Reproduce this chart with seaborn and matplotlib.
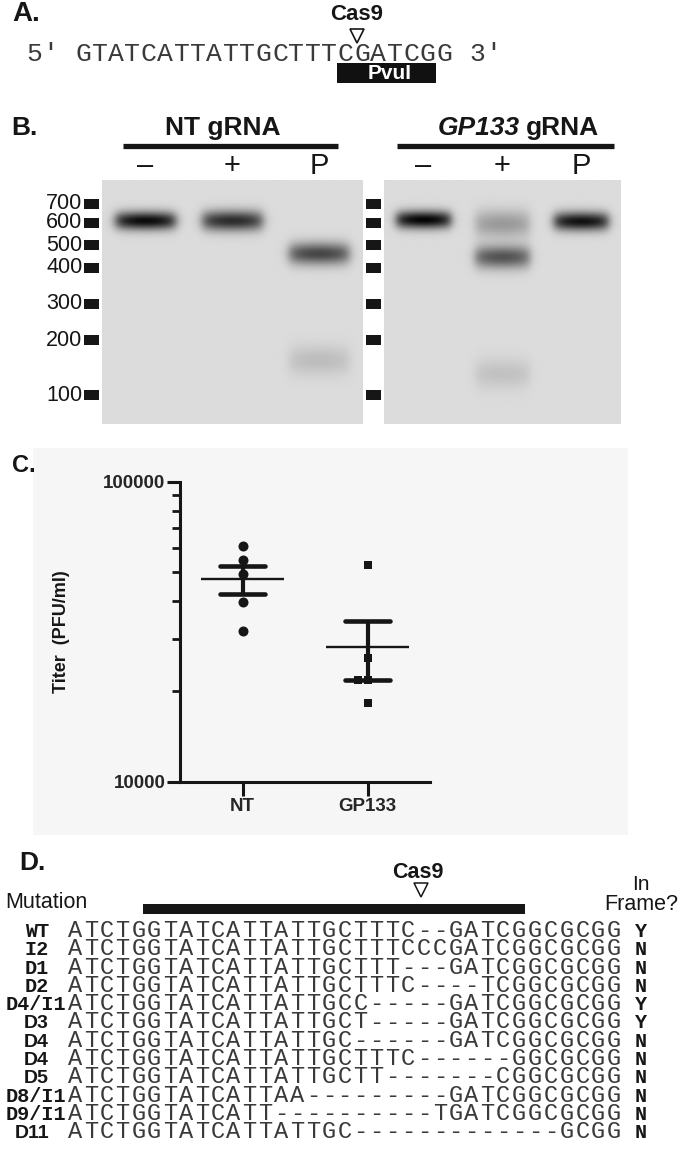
import numpy as np
import pandas as pd
import matplotlib
matplotlib.use('Agg')
import matplotlib.pyplot as plt
import matplotlib.transforms as mtransforms
from matplotlib.patches import Rectangle
from matplotlib.ticker import NullFormatter, LogLocator
import seaborn as sns

# --- panel A: target site ---
SITE_SEQ = "GTATCATTATTGCTTTCGATCGG"

LADDER_BP = [700, 600, 500, 400, 300, 200, 100]
LADDER_MIGRATION = [23.5, 42.5, 65, 87.5, 123.5, 160, 215]   # px below the wells
GEL_LANES = ['\u2013', '+', 'P']

NT_BAND_LANE = [0, 1, 2, 2]
NT_BAND_BP = [610, 610, 460, 155]
NT_BAND_STRENGTH = [0.95, 0.8, 0.68, 0.14]

GP_BAND_LANE = [0, 1, 1, 1, 2]
GP_BAND_BP = [615, 595, 445, 131, 607]
GP_BAND_STRENGTH = [0.98, 0.3, 0.62, 0.12, 0.92]

# --- panel C: titers ---
TITER_GROUPS = ['NT', 'GP133']
NT_TITER = [61000, 54700, 49100, 39800, 31900]
GP133_TITER = [52700, 25800, 21800, 21800, 18250]

# --- panel D: alignment ---
MUTATIONS = ['WT', 'I2', 'D1', 'D2', 'D4/I1', 'D3', 'D4', 'D4', 'D5', 'D8/I1', 'D9/I1', 'D11']
ALIGNED = [
    "ATCTGGTATCATTATTGCTTTC--GATCGGCGCGG",
    "ATCTGGTATCATTATTGCTTTCCCGATCGGCGCGG",
    "ATCTGGTATCATTATTGCTTT---GATCGGCGCGG",
    "ATCTGGTATCATTATTGCTTTC----TCGGCGCGG",
    "ATCTGGTATCATTATTGCC-----GATCGGCGCGG",
    "ATCTGGTATCATTATTGCT-----GATCGGCGCGG",
    "ATCTGGTATCATTATTGC------GATCGGCGCGG",
    "ATCTGGTATCATTATTGCTTTC------GGCGCGG",
    "ATCTGGTATCATTATTGCTT-------CGGCGCGG",
    "ATCTGGTATCATTAA---------GATCGGCGCGG",
    "ATCTGGTATCATT----------TGATCGGCGCGG",
    "ATCTGGTATCATTATTGC-------------GCGG",
]
IN_FRAME = ['Y', 'N', 'N', 'N', 'Y', 'Y', 'N', 'N', 'N', 'N', 'N', 'N']

W, H = 680, 1153
INK = '#161616'
SEQ_INK = '#3a3a3a'
MONO = ['Liberation Mono', 'DejaVu Sans Mono']
SANS = ['Liberation Sans', 'DejaVu Sans']

sns.set_style('white')
plt.rcParams['font.family'] = SANS
plt.rcParams['axes.unicode_minus'] = False

fig = plt.figure(figsize=(W / 100, H / 100), dpi=100)


def px_axes(x0, y0, x1, y1):
    ax = fig.add_axes([x0 / W, 1 - y1 / H, (x1 - x0) / W, (y1 - y0) / H])
    ax.patch.set_visible(False)
    return ax


def draw_seq(ax, text, col0, baseline, **kw):
    for k, ch in enumerate(text):
        if ch != ' ':
            ax.text(col0 + k + 0.5, baseline, ch, ha='center', va='baseline', **kw)


# layout layer in pixel units
lay = px_axes(0, 0, W, H)
lay.set_xlim(0, W)
lay.set_ylim(H, 0)
lay.axis('off')
lay.add_patch(Rectangle((33, 448), 595, 387, facecolor='#f6f6f6', edgecolor='none'))

for lab, x, y, fs in [('A.', 12, 14, 20), ('B.', 11, 128, 19), ('C.', 12, 465, 17), ('D.', 19, 863, 19)]:
    lay.text(x, y, lab, fontsize=fs, fontweight='bold', va='center', ha='left', color=INK)

# ---------------- A ----------------
A_X0, A_W = 75, 16.4
ax_a = px_axes(0, 0, W, 115)
ax_a.set_xlim(-A_X0 / A_W, (W - A_X0) / A_W)
ax_a.set_ylim(115, 0)
ax_a.axis('off')
draw_seq(ax_a, "5\u2032 " + SITE_SEQ + " 3\u2032", -3, 61, fontsize=19, family=MONO, color=SEQ_INK)
ax_a.text(17.2, 15, 'Cas9', fontsize=16, fontweight='bold', ha='center', va='center', color=INK)
ax_a.plot([17.2], [35.5], marker='v', ms=10.5, mfc='white', mec=INK, mew=1.2)
ax_a.add_patch(Rectangle((16, 63), 6, 20, facecolor='#111111', edgecolor='none'))
ax_a.text(19.2, 73.5, 'PvuI', fontsize=15, fontweight='bold', color='white', ha='center', va='center')

# ---------------- B ----------------
lay.text(223, 128, 'NT gRNA', fontsize=19, fontweight='bold', ha='center', va='center', color=INK)
lay.text(520, 128, 'GP133', fontsize=19, fontweight='bold', fontstyle='italic', ha='right', va='center', color=INK)
lay.text(526, 128, 'gRNA', fontsize=19, fontweight='bold', ha='left', va='center', color=INK)
lay.hlines(145.5, 123, 338, color=INK, lw=3.8)
lay.hlines(145.5, 397, 614, color=INK, lw=3.8)

GEL_H = 243.5
ladder_x = -np.log(LADDER_BP)


def draw_gel(ax, lanes, bps, strengths):
    xs = np.linspace(-0.5, 2.5, 400)
    ys = np.linspace(0, GEL_H, 400)
    X, Y = np.meshgrid(xs, ys)
    clear = np.ones_like(X)
    for lane, bp, s in zip(lanes, bps, strengths):
        yc = np.interp(-np.log(bp), ladder_x, LADDER_MIGRATION)
        dx = X - lane
        xprof = 1 / (1 + np.exp((np.abs(dx) - 0.355) / 0.035))
        xprof *= np.clip(1 - 0.3 * (dx / 0.36) ** 2, 0, 1)
        sig = 6.2 + 5.0 * (1 - s)
        yprof = np.exp(-0.5 * (np.abs(Y - yc) / sig) ** 2.0)
        clear *= 1 - s * xprof * yprof
    img = 0.862 * clear
    ax.imshow(img, cmap='gray', vmin=0, vmax=1, extent=(-0.5, 2.5, GEL_H, 0),
              aspect='auto', interpolation='bilinear')
    ax.set_xlim(-0.5, 2.5)
    ax.set_ylim(GEL_H, 0)
    ax.axis('off')


ax_g1 = px_axes(102, 180.5, 363, 424)
ax_g2 = px_axes(384, 180.5, 621, 424)
draw_gel(ax_g1, NT_BAND_LANE, NT_BAND_BP, NT_BAND_STRENGTH)
draw_gel(ax_g2, GP_BAND_LANE, GP_BAND_BP, GP_BAND_STRENGTH)

for ax_g, (mx0, mx1) in [(ax_g1, (84, 98.5)), (ax_g2, (366, 380.5))]:
    tr_mark = mtransforms.blended_transform_factory(lay.transData, ax_g.transData)
    ax_g.hlines(LADDER_MIGRATION, mx0, mx1, transform=tr_mark, color=INK, lw=7.2,
                clip_on=False)
    tr_lane = mtransforms.blended_transform_factory(ax_g.transData, lay.transData)
    for i, lab in enumerate(GEL_LANES):
        ax_g.text(i, 166, lab, transform=tr_lane, fontsize=21, ha='center', va='center',
                  color=INK, clip_on=False)

tr_lab = mtransforms.blended_transform_factory(lay.transData, ax_g1.transData)
for bp, mig in zip(LADDER_BP, LADDER_MIGRATION):
    ax_g1.text(82.5, mig, str(bp), transform=tr_lab, fontsize=15.5, ha='right', va='center',
               color=INK, clip_on=False)

# ---------------- C ----------------
ax_c = px_axes(180, 481.7, 430, 781.7)
titer = pd.DataFrame({
    'group': ['NT'] * len(NT_TITER) + ['GP133'] * len(GP133_TITER),
    'titer': NT_TITER + GP133_TITER,
})
sns.swarmplot(data=titer[titer['group'] == 'NT'], x='group', y='titer', order=TITER_GROUPS,
              marker='o', size=7.2, color=INK, log_scale=True, ax=ax_c, zorder=3)
sns.swarmplot(data=titer[titer['group'] == 'GP133'], x='group', y='titer', order=TITER_GROUPS,
              marker='s', size=6.2, color=INK, log_scale=True, ax=ax_c, zorder=3)

for i, vals in enumerate([NT_TITER, GP133_TITER]):
    m = np.mean(vals)
    se = np.std(vals, ddof=1) / np.sqrt(len(vals))
    ax_c.hlines(m, i - 0.33, i + 0.33, color=INK, lw=1.7, zorder=4)
    ax_c.vlines(i, m - se, m + se, color=INK, lw=3, zorder=4)
    ax_c.hlines([m - se, m + se], i - 0.18, i + 0.18, color=INK, lw=3.3,
                capstyle='round', zorder=4)

ax_c.set_yscale('log')
ax_c.set_ylim(1e4, 1e5)
ax_c.set_xlim(-0.5, 1.5)
sns.despine(ax=ax_c)
for sp in ('left', 'bottom'):
    ax_c.spines[sp].set_linewidth(2.2)
    ax_c.spines[sp].set_color(INK)
ax_c.set_yticks([1e4, 1e5], ['10000', '100000'], fontweight='bold', fontsize=13.5)
ax_c.yaxis.set_minor_locator(LogLocator(base=10, subs=np.arange(2, 10)))
ax_c.yaxis.set_minor_formatter(NullFormatter())
ax_c.set_xticks(range(len(TITER_GROUPS)), TITER_GROUPS, fontweight='bold', fontsize=13.5)
ax_c.tick_params(axis='y', which='major', length=9.4, width=2.2, pad=1, color=INK, left=True)
ax_c.tick_params(axis='y', which='minor', length=5.8, width=2.0, color=INK, left=True)
ax_c.tick_params(axis='x', length=10, width=2.2, pad=2, color=INK, bottom=True)
ax_c.set_xlabel('')
ax_c.set_ylabel('Titer  (PFU/ml)', fontweight='bold', fontsize=13, labelpad=24, color=INK)

# ---------------- D ----------------
D_X0, D_W = 67, 15.86
ROW0, ROW_H = 937, 18.3
ax_d = px_axes(0, 840, W, H)
ax_d.set_xlim(-D_X0 / D_W, (W - D_X0) / D_W)
ax_d.set_ylim(H, 840)
ax_d.axis('off')

ax_d.text(-D_X0 / D_W + 5 / D_W, 902, 'Mutation', fontsize=15.5, ha='left', va='center', color=INK)
ax_d.hlines(909, 4.8, 28.9, color=INK, lw=7.2)
ax_d.text(22.15, 872, 'Cas9', fontsize=15.5, fontweight='bold', ha='center', va='center', color=INK)
ax_d.plot([22.3], [890], marker='v', ms=9.5, mfc='white', mec=INK, mew=1.1)
ax_d.text(36.2, 884, 'In', fontsize=15, ha='center', va='center', color=INK)
ax_d.text((678 - D_X0) / D_W, 905, 'Frame?', fontsize=15.5, ha='right', va='center', color=INK)

for r, (lab, seq, frame) in enumerate(zip(MUTATIONS, ALIGNED, IN_FRAME)):
    base = ROW0 + ROW_H * r
    draw_seq(ax_d, seq, 0, base, fontsize=17, family=MONO, color=SEQ_INK)
    sans = '/' not in lab and lab[0] == 'D' and int(lab[1:]) >= 3
    right = 66 if '/' in lab else 49
    ax_d.text((right - D_X0) / D_W, base, lab, ha='right', va='baseline', color=INK,
              fontweight='bold', fontsize=14 if sans else 14.5,
              family=SANS if sans else MONO)
    ax_d.text(36.2, base, frame, ha='center', va='baseline', color=INK,
              fontweight='bold', fontsize=14.5, family=MONO)

fig.savefig('out.png', dpi=100)
